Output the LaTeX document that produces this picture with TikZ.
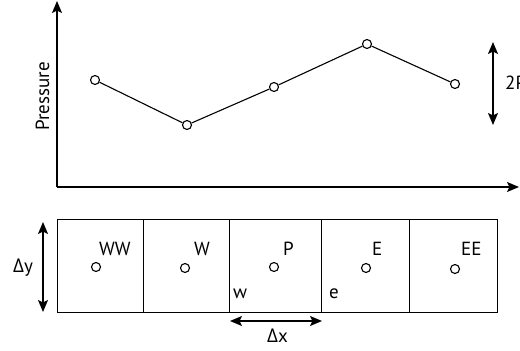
\documentclass[tikz,border=0pt]{standalone}
\usepackage{fontspec}
\setmainfont{PT Sans}
\newfontfamily\grk{Open Sans}
\usetikzlibrary{arrows.meta}
\begin{document}
\begin{tikzpicture}[x=1pt,y=-1pt,
  lbl/.style={font=\fontsize{19}{21}\selectfont, inner sep=0pt},
  pt/.style={circle, draw, line width=1.1pt, fill=white, inner sep=0pt, minimum size=9pt},
  cell/.style={draw, line width=1.2pt, minimum height=93pt, inner sep=0pt, anchor=north west},
  tip/.tip={Stealth[length=12pt,width=10pt,inset=2.5pt]},
  ax/.style={line width=1.3pt, -tip},
  dbl/.style={line width=1.3pt, tip-tip},
  ln/.style={line width=1.1pt}]
\clip (0,0) rectangle (520,351);
% axes
\coordinate (O) at (57,187);
\coordinate (Ytop) at (57,1);
\coordinate (Xend) at (519,187);
\draw[ax] (O) -- (Ytop);
\draw[ax] (O) -- (Xend);
\node[lbl, rotate=90, anchor=base] (press) at (49,96.5) {Pressure};
% points
\node[pt] (p1) at (95,80) {};
\node[pt] (p2) at (187,125) {};
\node[pt] (p3) at (274,87) {};
\node[pt] (p4) at (367,44) {};
\node[pt] (p5) at (455,84) {};
\draw[ln] (p1) -- (p2) -- (p3) -- (p4) -- (p5);
% 2P arrow
\coordinate (a1) at (493,42);
\coordinate (a2) at (493,125);
\draw[dbl] (a1) -- (a2);
\node[lbl, anchor=base west] (twoP) at (505,89) {2P};
% cells
\node[cell, minimum width=86pt] (c1) at (57,219) {};
\node[cell, minimum width=86pt] (c2) at (143,219) {};
\node[cell, minimum width=92pt] (c3) at (229,219) {};
\node[cell, minimum width=88pt] (c4) at (321,219) {};
\node[cell, minimum width=88pt] (c5) at (409,219) {};
% cell points
\node[pt] (q1) at (96,267) {};
\node[pt] (q2) at (185,268) {};
\node[pt] (q3) at (274,267) {};
\node[pt] (q4) at (366,268) {};
\node[pt] (q5) at (455,269) {};
\node[lbl, anchor=base west] (lWW) at (99,255) {WW};
\node[lbl, anchor=base west] (lW) at (194,255) {W};
\node[lbl, anchor=base west] (lP) at (283,255) {P};
\node[lbl, anchor=base west] (lE) at (372,255) {E};
\node[lbl, anchor=base west] (lEE) at (461,255) {EE};
\node[lbl, anchor=base west] (lw) at (233,298) {w};
\node[lbl, anchor=base west] (le) at (329,298) {e};
% delta y
\coordinate (dy1) at (43,222);
\coordinate (dy2) at (43,312);
\draw[dbl] (dy1) -- (dy2);
\node[lbl, anchor=base west] (ldy) at (13,272) {{\grk Δ}y};
% delta x
\coordinate (dx1) at (230,321);
\coordinate (dx2) at (322,321);
\draw[dbl] (dx1) -- (dx2);
\node[lbl, anchor=base west] (ldx) at (267,342) {{\grk Δ}x};
\end{tikzpicture}
\end{document}
